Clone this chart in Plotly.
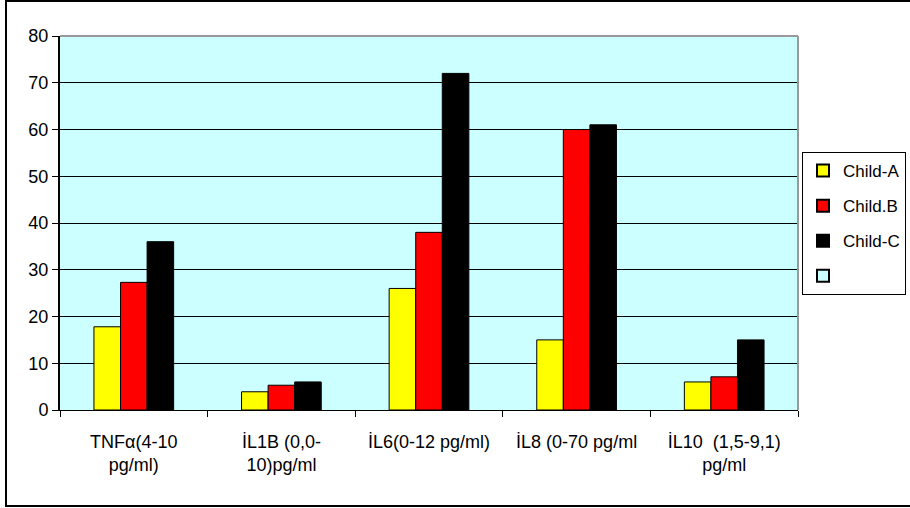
import plotly.graph_objects as go

categories = ["TNFα(4-10<br>pg/ml)", "İL1B (0,0-<br>10)pg/ml", "İL6(0-12 pg/ml)",
              "İL8 (0-70 pg/ml", "İL10  (1,5-9,1)<br>pg/ml"]
child_a = [17.8, 3.9, 26, 15, 6]
child_b = [27.3, 5.3, 38, 60, 7.1]
child_c = [36, 6, 72, 61, 15]
series_names = ["Child-A", "Child.B", "Child-C"]
series_colors = ["#FFFF00", "#FF0000", "#000000"]
y_ticks = [0, 10, 20, 30, 40, 50, 60, 70, 80]

FONT = "Liberation Sans, Arial, sans-serif"

fig = go.Figure()
for name, vals, col in zip(series_names, [child_a, child_b, child_c], series_colors):
    fig.add_trace(go.Bar(
        x=categories, y=vals, name=name, legendgroup=name,
        marker=dict(color=col, line=dict(color="#000000", width=1)),
    ))
# empty legend entry (light cyan swatch)
fig.add_trace(go.Scatter(
    x=[None], y=[None], mode="markers", name=" ", legendgroup="empty",
    marker=dict(symbol="square", size=11, color="#CCFFFF",
                line=dict(color="#000000", width=1)),
))

W, H = 910, 508
L, R, T, B = 60, 112, 36, 98
pw, ph = W - L - R, H - T - B

fig.update_layout(
    width=W, height=H,
    margin=dict(l=L, r=R, t=T, b=B, autoexpand=False),
    paper_bgcolor="#FFFFFF",
    plot_bgcolor="#CCFFFF",
    font=dict(family=FONT, size=18, color="#000000"),
    barmode="group", bargap=0.46, bargroupgap=0,
    showlegend=True,
    legend=dict(
        x=(802 - L) / pw, xanchor="left",
        y=(410 - 152) / ph, yanchor="top",
        bgcolor="#FFFFFF", bordercolor="#000000", borderwidth=1,
        font=dict(family=FONT, size=17, color="#000000"),
        tracegroupgap=10, itemsizing="constant",
        entrywidth=100,
    ),
    xaxis=dict(
        type="category", showgrid=False, showline=True, linecolor="#000000",
        linewidth=1, ticks="outside", tickson="boundaries", ticklen=6,
        tickcolor="#000000", tickfont=dict(family=FONT, size=18),
        ticklabelstandoff=15,
    ),
    yaxis=dict(
        range=[0, 80], tickvals=y_ticks, showgrid=True, gridcolor="#000000",
        gridwidth=1, showline=True, linecolor="#000000", linewidth=2,
        ticks="outside", ticklen=6, tickcolor="#000000",
        tickfont=dict(family=FONT, size=18), zeroline=False,
    ),
    shapes=[
        # gray plot-area border (top and right)
        dict(type="line", xref="paper", yref="paper", x0=0, x1=1, y0=1, y1=1,
             line=dict(color="#999999", width=2), layer="above"),
        dict(type="line", xref="paper", yref="paper", x0=1, x1=1, y0=0, y1=1,
             line=dict(color="#999999", width=2), layer="above"),
        # outer chart frame
        dict(type="rect", xref="paper", yref="paper",
             x0=(6 - L) / pw, x1=(930 - L) / pw,
             y0=(410 - 506) / ph, y1=(410 - 1) / ph,
             line=dict(color="#000000", width=2), fillcolor="rgba(0,0,0,0)"),
    ],
)

fig.write_html("out.html", config={"displayModeBar": False},
               post_script="document.body.style.margin='0';document.body.style.padding='0';")
